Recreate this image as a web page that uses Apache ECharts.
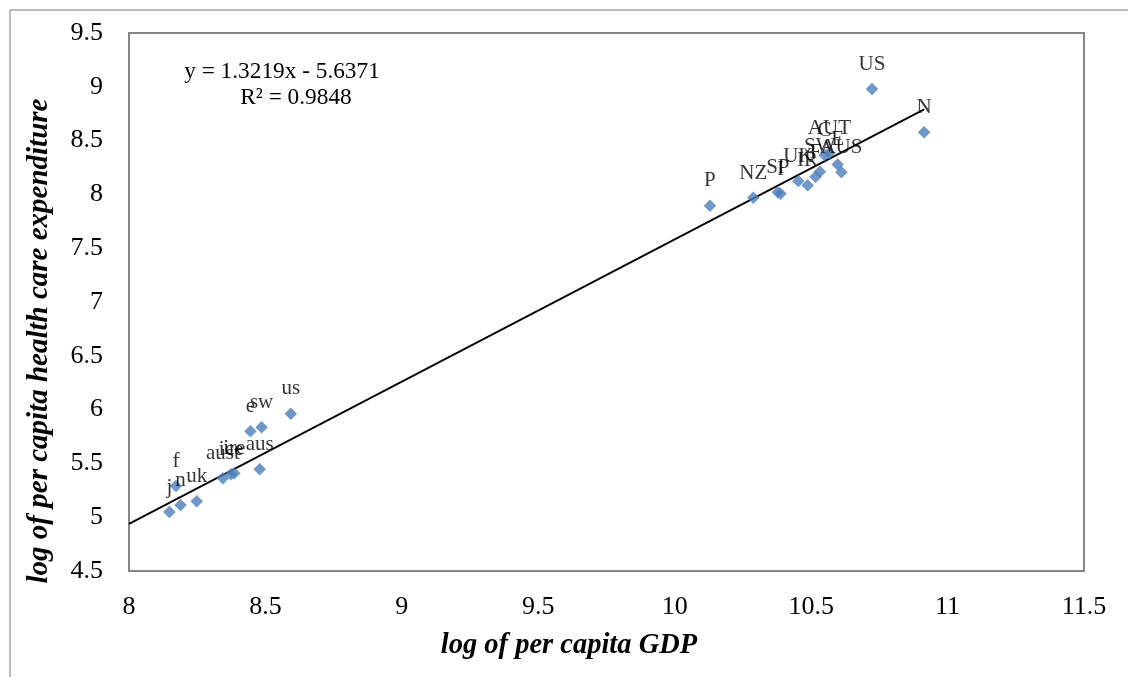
<!DOCTYPE html>
<html>
<head>
<meta charset="utf-8">
<script src="https://cdn.jsdelivr.net/npm/echarts@6/dist/echarts.min.js"></script>
<style>
html,body{margin:0;padding:0;background:#fff;}
#chart{width:1128px;height:677px;}
</style>
</head>
<body>
<div id="chart"></div>
<script>
// Country labels (lowercase = earlier year, uppercase = later year)
const countries = ['j','f','n','uk','aust','ice','ire','aus','e','sw','us',
  'P','NZ','SP','I','UK','IR','F','SW','C','AUT','E','AUS','US','N'];
// log of per capita GDP
const logGDP = [8.148,8.172,8.189,8.248,8.344,8.374,8.386,8.479,8.445,8.486,8.593,
  10.129,10.288,10.378,10.388,10.453,10.487,10.516,10.532,10.549,10.567,10.597,10.611,10.723,10.914];
// log of per capita health care expenditure
const logHCE = [5.048,5.290,5.113,5.148,5.362,5.399,5.408,5.445,5.798,5.836,5.962,
  7.895,7.969,8.020,8.005,8.125,8.085,8.164,8.211,8.366,8.385,8.278,8.205,8.980,8.577];
// Linear trendline
const slope = 1.3219;
const intercept = -5.6371;
const trendStart = 8;
const xTicks = {min: 8, max: 11.5, interval: 0.5};
const yTicks = {min: 4.5, max: 9.5, interval: 0.5};

const pts = countries.map((c, i) => ({name: c, value: [logGDP[i], logHCE[i]]}));
const xEnd = Math.max(...logGDP);
const trend = [[trendStart, slope*trendStart + intercept], [xEnd, slope*xEnd + intercept]];

const serif = '"Liberation Serif", "Times New Roman", serif';
const chart = echarts.init(document.getElementById('chart'), null, {renderer: 'canvas'});
chart.setOption({
  animation: false,
  backgroundColor: '#fff',
  grid: {left: 129, top: 33, right: 44, bottom: 106, show: true, borderColor: '#868686', borderWidth: 2, backgroundColor: 'transparent'},
  xAxis: {
    type: 'value', min: xTicks.min, max: xTicks.max, interval: xTicks.interval,
    axisLine: {show: false}, axisTick: {show: false}, splitLine: {show: false},
    axisLabel: {fontFamily: serif, fontSize: 26, color: '#000', margin: 23}
  },
  yAxis: {
    type: 'value', min: yTicks.min, max: yTicks.max, interval: yTicks.interval,
    axisLine: {show: false}, axisTick: {show: false}, splitLine: {show: false},
    axisLabel: {fontFamily: serif, fontSize: 26, color: '#000', margin: 26}
  },
  series: [
    {
      type: 'line', data: trend, showSymbol: false, symbol: 'none',
      lineStyle: {color: '#000', width: 1.8}, silent: true, z: 1
    },
    {
      type: 'scatter', data: pts, symbol: 'diamond', symbolSize: 12.5,
      itemStyle: {color: '#4A7EBB'}, z: 2,
      label: {show: true, position: 'top', distance: 8, formatter: '{b}',
        fontFamily: serif, fontSize: 21, color: '#000'}
    }
  ],
  graphic: [
    {type: 'line', shape: {x1: 10, y1: 10, x2: 1128, y2: 10}, style: {stroke: '#a6a6a6', lineWidth: 1.5}},
    {type: 'line', shape: {x1: 10, y1: 10, x2: 10, y2: 677}, style: {stroke: '#a6a6a6', lineWidth: 1.5}},
    {type: 'text', x: 282, y: 72, style: {text: 'y = 1.3219x - 5.6371', font: '23.3px ' + serif, fill: '#000', textAlign: 'center', textVerticalAlign: 'middle'}},
    {type: 'text', x: 296, y: 98, style: {text: 'R² = 0.9848', font: '23.3px ' + serif, fill: '#000', textAlign: 'center', textVerticalAlign: 'middle'}},
    {type: 'text', x: 569, y: 646, style: {text: 'log of per capita GDP', font: 'italic bold 28.5px ' + serif, fill: '#000', textAlign: 'center', textVerticalAlign: 'middle'}},
    {type: 'text', x: 40, y: 341, rotation: Math.PI/2, style: {text: 'log of per capita health care expenditure', font: 'italic bold 29px ' + serif, fill: '#000', textAlign: 'center', textVerticalAlign: 'middle'}}
  ]
});
</script>
</body>
</html>
